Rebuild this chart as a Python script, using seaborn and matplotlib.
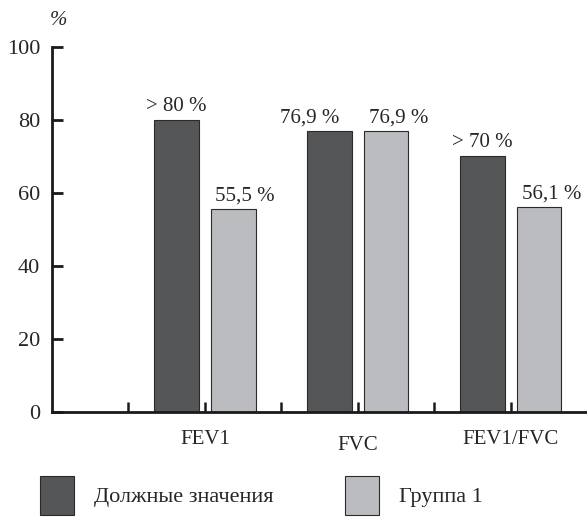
import matplotlib
matplotlib.use("Agg")
import matplotlib.pyplot as plt
import matplotlib.transforms as mtransforms
import pandas as pd
import seaborn as sns

# Chart data
categories = ["FEV1", "FVC", "FEV1/FVC"]
groups = ["Должные значения", "Группа 1"]
due_values = [80, 76.9, 70]
group1_values = [55.5, 76.9, 56.1]
due_labels = ["> 80 %", "76,9 %", "> 70 %"]
group1_labels = ["55,5 %", "76,9 %", "56,1 %"]
y_ticks = [0, 20, 40, 60, 80, 100]

# horizontal nudges (points) for the value labels, as in the reference
due_shift = [0, -14, 0]
group1_shift = [8, 9, 9]

df = pd.DataFrame({
    "category": categories * 2,
    "group": [groups[0]] * 3 + [groups[1]] * 3,
    "value": due_values + group1_values,
})

sns.set_style("white")
plt.rcParams["font.family"] = ["Liberation Serif", "DejaVu Serif"]

fig = plt.figure(figsize=(5.87, 5.17), dpi=100)
ax = fig.add_axes([0.0886, 0.2031, 0.9114, 0.706])

sns.barplot(data=df, x="category", y="value", hue="group", order=categories,
            hue_order=groups, palette=["#555658", "#bbbcc0"], width=0.742,
            gap=0.21, edgecolor="#2a2a2a", linewidth=0.8, saturation=1, ax=ax)

# value labels above bars
for cont, labs, shifts in zip(ax.containers, [due_labels, group1_labels], [due_shift, group1_shift]):
    for bar, lab, dx in zip(cont, labs, shifts):
        ax.annotate(lab, (bar.get_x() + bar.get_width() / 2, bar.get_height()),
                    xytext=(dx, 3), textcoords="offset points",
                    ha="center", va="bottom", fontsize=15)

ax.set_xlim(-1, 2.5)
ax.set_ylim(0, 100)
ax.set_yticks(y_ticks)
ax.set_xticks([-0.5, 0, 0.5, 1, 1.5, 2])
ax.set_xticklabels(["", "FEV1", "", "FVC", "", "FEV1/FVC"])
ax.tick_params(axis="y", left=True, direction="in", length=8, width=2,
               color="#1a1a1a", labelsize=16, pad=8.5)
ax.tick_params(axis="x", bottom=True, direction="in", length=7, width=1.8,
               color="#1a1a1a", labelsize=15, pad=13)
ax.set_xlabel("")
ax.set_ylabel("")

# FVC label sits a bit lower in the reference
lab = ax.get_xticklabels()[3]
lab.set_transform(lab.get_transform() + mtransforms.ScaledTranslation(0, -4 / 72, fig.dpi_scale_trans))

for side in ["top", "right"]:
    ax.spines[side].set_visible(False)
for side in ["left", "bottom"]:
    ax.spines[side].set_linewidth(2)
    ax.spines[side].set_color("#1a1a1a")

fig.text(0.099, 0.96, "%", fontsize=15, style="italic", ha="center", va="center")

sns.move_legend(ax, "lower left", bbox_to_anchor=(0.068, 0.004), bbox_transform=fig.transFigure,
                ncol=2, frameon=False, title=None, fontsize=16, handlelength=1.53,
                handleheight=2.3, handletextpad=0.9, columnspacing=3.2,
                borderpad=0, borderaxespad=0)

fig.savefig("out.png", dpi=100)
